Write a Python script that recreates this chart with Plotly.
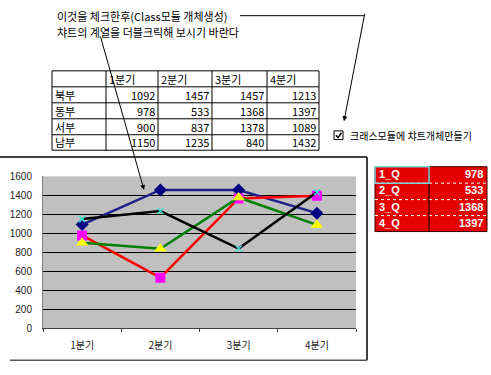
import plotly.graph_objects as go

W, H = 491, 375

quarters = ["1분기", "2분기", "3분기", "4분기"]
regions = ["북부", "동부", "서부", "남부"]
north = [1092, 1457, 1457, 1213]
east = [978, 533, 1368, 1397]
west = [900, 837, 1378, 1089]
south = [1150, 1235, 840, 1432]
table_rows = [north, east, west, south]

red_labels = ["1_Q", "2_Q", "3_Q", "4_Q"]
red_values = east

note_line1 = "이것을 체크한후(Class모듈 개체생성)"
note_line2 = "챠트의 계열을 더블크릭해 보시기 바란다"
checkbox_label = "크래스모듈에 챠트개체만들기"

KFONT = "Noto Sans CJK KR"


def px(x, y):
    return x / W, 1 - y / H


fig = go.Figure()

fig.add_trace(go.Scatter(x=quarters, y=north, name="북부", mode="lines+markers",
                         line=dict(color="#1f1f8a", width=2.5),
                         marker=dict(symbol="diamond", size=10, color="#000080")))
fig.add_trace(go.Scatter(x=quarters, y=east, name="동부", mode="lines+markers",
                         line=dict(color="#ff0000", width=2.5),
                         marker=dict(symbol="square", size=10, color="#ff00ff")))
fig.add_trace(go.Scatter(x=quarters, y=west, name="서부", mode="lines+markers",
                         line=dict(color="#008000", width=2.5),
                         marker=dict(symbol="triangle-up", size=11, color="#ffff00")))
fig.add_trace(go.Scatter(x=quarters, y=south, name="남부", mode="lines+markers",
                         line=dict(color="#000000", width=2.5),
                         marker=dict(symbol="x-thin", size=6, color="#00c0c0",
                                     line=dict(color="#40e0d0", width=1.5))))

x0, x1 = 43, 356
yt, yb = 176, 333

shapes = []
annotations = []

# chart area border
shapes.append(dict(type="line", xref="paper", yref="paper",
                   x0=px(0, 0)[0], x1=px(367, 0)[0], y0=px(0, 156)[1], y1=px(0, 156)[1],
                   line=dict(color="black", width=1.5)))
shapes.append(dict(type="line", xref="paper", yref="paper",
                   x0=px(367, 0)[0], x1=px(367, 0)[0], y0=px(0, 156)[1], y1=px(0, 366)[1],
                   line=dict(color="black", width=1.5)))
shapes.append(dict(type="line", xref="paper", yref="paper",
                   x0=px(10, 0)[0], x1=px(367, 0)[0], y0=px(0, 366)[1], y1=px(0, 366)[1],
                   line=dict(color="#555555", width=1.5)))

# notes text
annotations.append(dict(text=note_line1, x=px(55, 0)[0], y=px(0, 10)[1], xref="paper", yref="paper",
                        xanchor="left", yanchor="middle", showarrow=False,
                        font=dict(family=KFONT, size=11, color="black")))
annotations.append(dict(text=note_line2, x=px(55, 0)[0], y=px(0, 27)[1], xref="paper", yref="paper",
                        xanchor="left", yanchor="middle", showarrow=False,
                        font=dict(family=KFONT, size=11, color="black")))

# connector lines / arrows
shapes.append(dict(type="line", xref="paper", yref="paper",
                   x0=px(240, 0)[0], x1=px(365, 0)[0], y0=px(0, 10)[1], y1=px(0, 10)[1],
                   line=dict(color="black", width=1)))
annotations.append(dict(text="", x=px(344, 0)[0], y=px(0, 119)[1], xref="paper", yref="paper",
                        ax=365 - 344, ay=10 - 119, axref="pixel", ayref="pixel",
                        showarrow=True, arrowhead=2, arrowsize=1, arrowwidth=1, arrowcolor="black"))
annotations.append(dict(text="", x=px(144, 0)[0], y=px(0, 190)[1], xref="paper", yref="paper",
                        ax=100 - 144, ay=35 - 190, axref="pixel", ayref="pixel",
                        showarrow=True, arrowhead=2, arrowsize=1, arrowwidth=1, arrowcolor="black"))

# data table
col_x = [52, 106, 158, 212, 267, 319]
row_y = [67, 83.5, 100, 116.5, 133, 149]
for cx in col_x:
    shapes.append(dict(type="line", xref="paper", yref="paper",
                       x0=px(cx, 0)[0], x1=px(cx, 0)[0], y0=px(0, row_y[0])[1], y1=px(0, row_y[-1])[1],
                       line=dict(color="black", width=1)))
for ry in row_y:
    shapes.append(dict(type="line", xref="paper", yref="paper",
                       x0=px(col_x[0], 0)[0], x1=px(col_x[-1], 0)[0], y0=px(0, ry)[1], y1=px(0, ry)[1],
                       line=dict(color="black", width=1)))
for j, q in enumerate(quarters):
    annotations.append(dict(text=q, x=px(col_x[j + 1] + 1, 0)[0], y=px(0, (row_y[0] + row_y[1]) / 2)[1],
                            xref="paper", yref="paper", xanchor="left", yanchor="middle", showarrow=False,
                            font=dict(family=KFONT, size=11, color="black")))
for i, r in enumerate(regions):
    yc = px(0, (row_y[i + 1] + row_y[i + 2]) / 2)[1]
    annotations.append(dict(text=r, x=px(col_x[0] + 1, 0)[0], y=yc, xref="paper", yref="paper",
                            xanchor="left", yanchor="middle", showarrow=False,
                            font=dict(family=KFONT, size=11, color="black")))
    for j, v in enumerate(table_rows[i]):
        annotations.append(dict(text=str(v), x=px(col_x[j + 2] - 1, 0)[0], y=yc, xref="paper", yref="paper",
                                xanchor="right", yanchor="middle", showarrow=False,
                                font=dict(family=KFONT, size=11, color="black")))

# checkbox
shapes.append(dict(type="rect", xref="paper", yref="paper",
                   x0=px(334, 0)[0], x1=px(343, 0)[0], y0=px(0, 138)[1], y1=px(0, 129)[1],
                   line=dict(color="black", width=1), fillcolor="white"))
shapes.append(dict(type="path", xref="paper", yref="paper",
                   path="M {} {} L {} {} L {} {}".format(px(336, 0)[0], px(0, 133.5)[1],
                                                         px(338, 0)[0], px(0, 136)[1],
                                                         px(341.5, 0)[0], px(0, 131)[1]),
                   line=dict(color="black", width=1.5)))
annotations.append(dict(text=checkbox_label, x=px(348, 0)[0], y=px(0, 134)[1], xref="paper", yref="paper",
                        xanchor="left", yanchor="middle", showarrow=False,
                        font=dict(family=KFONT, size=10, color="black")))

# red table
rx = [375, 429, 487]
ry_ = [166, 183, 200, 216.5, 233]
shapes.append(dict(type="rect", xref="paper", yref="paper",
                   x0=px(rx[0], 0)[0], x1=px(rx[2], 0)[0], y0=px(0, ry_[-1])[1], y1=px(0, ry_[0])[1],
                   line=dict(color="#400000", width=1), fillcolor="#e60000"))
for yy in ry_[1:-1]:
    shapes.append(dict(type="line", xref="paper", yref="paper",
                       x0=px(rx[0], 0)[0], x1=px(rx[2], 0)[0], y0=px(0, yy)[1], y1=px(0, yy)[1],
                       line=dict(color="white", width=1, dash="dot")))
shapes.append(dict(type="line", xref="paper", yref="paper",
                   x0=px(rx[1], 0)[0], x1=px(rx[1], 0)[0], y0=px(0, ry_[0])[1], y1=px(0, ry_[-1])[1],
                   line=dict(color="black", width=1)))
shapes.append(dict(type="rect", xref="paper", yref="paper",
                   x0=px(375, 0)[0], x1=px(429, 0)[0], y0=px(0, 183)[1], y1=px(0, 166)[1],
                   line=dict(color="#7fd4d4", width=1.5), fillcolor="rgba(0,0,0,0)"))
for i, (lab, v) in enumerate(zip(red_labels, red_values)):
    yc = px(0, (ry_[i] + ry_[i + 1]) / 2 - 1)[1]
    annotations.append(dict(text="<b>" + lab + "</b>", x=px(rx[0] + 2, 0)[0], y=yc, xref="paper", yref="paper",
                            xanchor="left", yanchor="middle", showarrow=False,
                            font=dict(family="Arial", size=11, color="white")))
    annotations.append(dict(text="<b>" + str(v) + "</b>", x=px(rx[2] - 2, 0)[0], y=yc, xref="paper", yref="paper",
                            xanchor="right", yanchor="middle", showarrow=False,
                            font=dict(family="Arial", size=11, color="white")))

fig.update_layout(
    width=W, height=H,
    margin=dict(l=0, r=0, t=0, b=0),
    paper_bgcolor="white",
    plot_bgcolor="#c0c0c0",
    showlegend=False,
    shapes=shapes,
    annotations=annotations,
    xaxis=dict(domain=[x0 / W, x1 / W], type="category", range=[-0.5, 3.5],
               showline=True, linecolor="#404040", linewidth=1, mirror=False,
               ticks="outside", tickson="boundaries", ticklen=3, tickcolor="#404040",
               ticklabelstandoff=8,
               showgrid=False, zeroline=False,
               tickfont=dict(family=KFONT, size=10, color="#222222")),
    yaxis=dict(domain=[1 - yb / H, 1 - yt / H], range=[0, 1600], dtick=200,
               showline=True, linecolor="#808080", linewidth=1,
               ticks="", ticklabelstandoff=8,
               showgrid=True, gridcolor="black", gridwidth=1, zeroline=False,
               tickfont=dict(family="Arial", size=10, color="#222222")),
)

fig.write_html("out.html", config={"displayModeBar": False},
               post_script="document.body.style.margin='0';document.body.style.padding='0';")
